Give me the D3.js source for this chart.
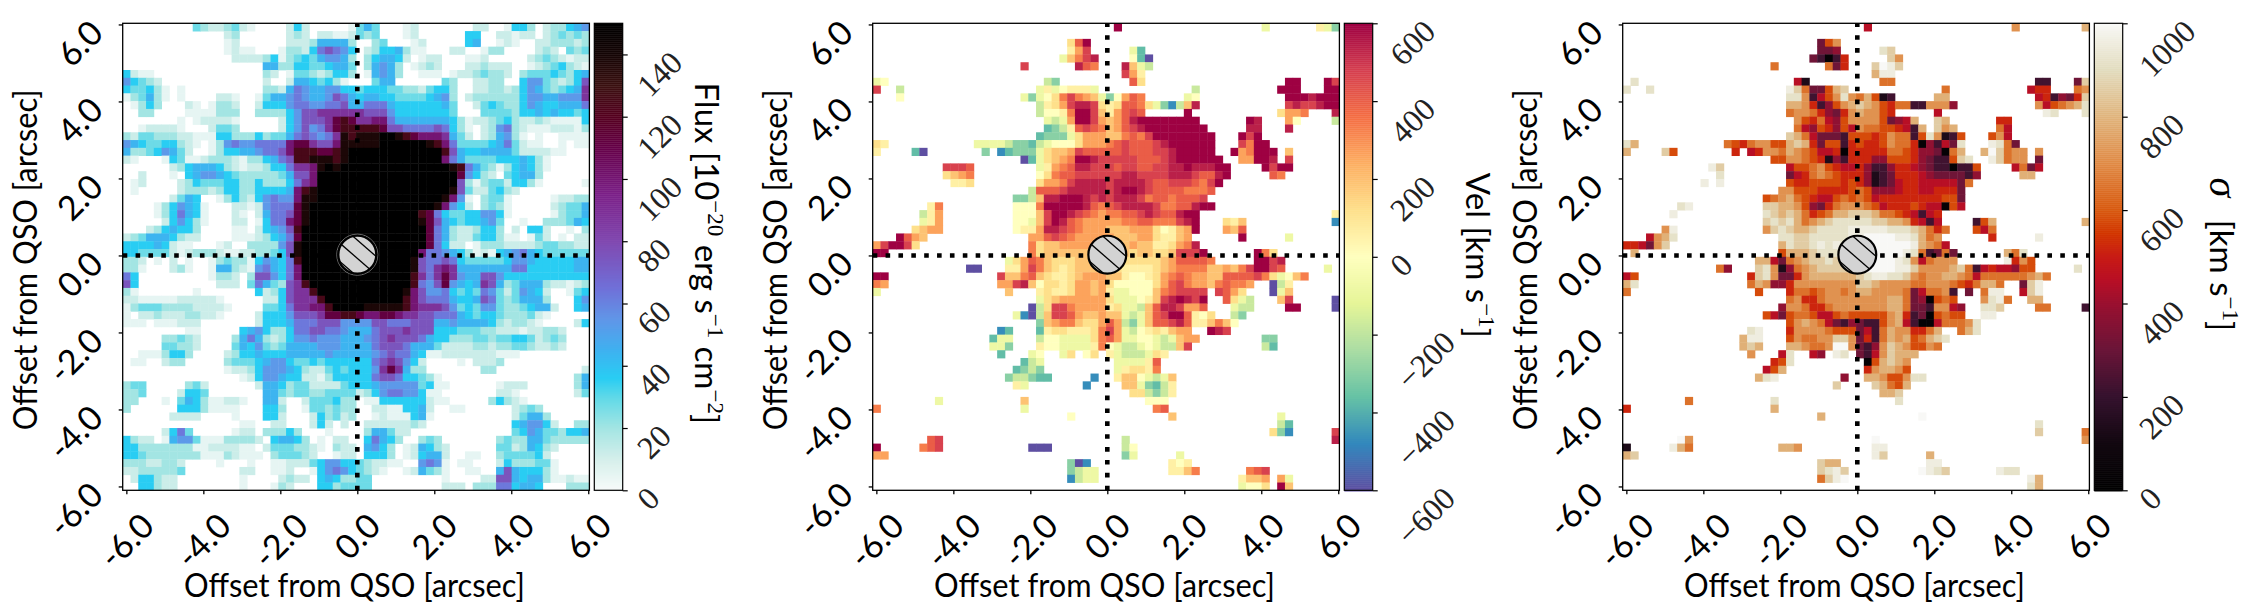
<!DOCTYPE html>
<html>
<head>
<meta charset="utf-8">
<script src="https://d3js.org/d3.v7.min.js"></script>
<style>
  html, body { margin: 0; padding: 0; background: #fff; }
  svg { display: block; }
  .sans { font-family: Lato, "Open Sans", sans-serif; }
  .serif { font-family: "Liberation Serif", serif; }
</style>
</head>
<body>
<div id="chart"></div>
<script>
// each row is one line of the 60 x 60 map, top row first.
// "." is a blank cell, a letter is an index into the levels list of that map.
// rows are grouped in tens only to keep count of the columns.
const levelKeys = "abcdefghijklmnop";

const fluxLevels = [5, 12, 20, 28, 36, 44, 54, 63, 75, 88, 100, 112, 125, 138, 150];
const fluxRows = [
  ".........d cbbcdba... .beb.....a dfd...ab.. .....bb..a eec.bccefg",
  ".......... ...bc..... .bcb.bbaab dcd...ab.. ....ee..bb abb.bcdcdc",
  ".......... ...ab..... .bbbcffffc ..cd...ab. ....ef..ab a..bbcccbc",
  ".......... ...abaa... accbehihge .bceefcaa. ..bb..acc. ...bcb.dcd",
  ".......... ....bbbbce acdedfggfc .ceffeb.ab b...aab... ..bcdcbabb",
  ".......... ........ff cceeddeffd .cfgfc.abc b...bbcbbb ..abcdecba",
  "ebaa...... ........cb .addcbceec .afgfc..aa a.abbcdccb .cdddedcef",
  "gedcb..... ........b. .bffedeca. ..dff..... .dc..bbcc. .eggdcbcei",
  "eddeca.a.. ........cc bfhgffggee deeeddccbd eec..bbccb cegfdcdefj",
  "acdfca.a.. ..bba..adf fghgffgihf effeedddde fgc.bccccc ceggffgggj",
  ".acec...ba .accb..bee eghhgghhif fhhhfeeeee efd..bdedc cegfeefffh",
  "..cc....aa aaccc..ccc cegiijjjjj jiiigeeeee eed...dddd ceefefeede",
  ".......a.a bbbba..... begiiijlml jjkkhfffff ffecabbcde cbbcbaaaae",
  "..abbbba.. .bddc..... begighjlmm mmmliihhhh iheca.bcgh cbaaabbbac",
  "cbddcccbba aaeecccecd dfhihghjnm nnnoonmlkk kjfdb.bcfg ca.a..aaaa",
  "gfeddeecba .acghgghhh hklljiiknn nnnoooooon mkhddddefh dbaa..a.aa",
  "fccdegfdb. .aceeffghh ikmmmllmno oooooooooo omifeeffff dbbbbaa...",
  "ba...aedaa bcccbaccef himmnnnmno oooooooooo okhfddddee efeca.....",
  "......bcef ffecbabbce ehjjknonoo oooooooooo oonmhfdcac efeca.....",
  "..b...a.ef ggfedccccc dfiikooooo oooooooooo ooolgecb.d effc......",
  ".ab....bce dddeeccecc cehjkooooo oooooooooo oooicacddb eeca.....a",
  ".a.....bcc cbceecceee efkmnooooo oooooooooo oonidbbdec b.........",
  "......bdfe ..acecbegh ggknnooooo oooooooooo onkga.cdda .....abbcc",
  "....acegfe a...bbabgh hhlnoooooo oooooooooo nkgeb.cdca .....bcddf",
  "....acehfe a...ba.bfh hilnoooooo ooooooooml heddeeggea .....acddf",
  ".....begec a...bb.aeh hklnoooooo oooooooonl ifedeefgd. .a..cccdfe",
  "...bcefeec ....aa.bef gimooooooo oooooooool hfcbbceec. b.eeb..a.c",
  "bcdfffecbb ....aaabce fhlooooooo oooooooool hfcbbdeeca a.adb.a.bb",
  "eeeefebaa. ..ab..cccc ginooooooo oooooooool hebb.acccb bbbcddccbb",
  "eeddddbabc ccbaabbccd einooooooo ooooooookh hgfecabaef ghfedddddd",
  "ccb.a.b.a. .acdccaegf ehmooooooo ooooooonih hiheddddde ggfeeeeeff",
  "cca...bca. .affcbaghf ehkooooooo ooooooonih jkjfffffff hheeeeeeff",
  "he........ .accb.ciig ehkooooooo ooooooomjh jljgffiige eeeeeeeeee",
  "ie........ ..bbb.dhfd cijmoooooo ooooooomhg ilgfefjifc dfffcbbabc",
  "ca.......a .......ebc eijjmooooo oooooonkig ghededhgdb dgfeb..ade",
  "bbaaaaabbb bba.....bb eijjjmoooo oooooomkih hhfeefihdc dfffc...eg",
  "acdddccccb bbba....dd ehjjkkmooo onnnnnmkjj jigdedggdc cdeffb..ef",
  "a.bbcbbbcc bba....bee egiiijllmm lkkllkjjii hhhfedeedc ccdba.....",
  "aaa.aaabbb .......bee efhhhiiigg ggiihhhiii ffgffffecb ccba....be",
  "........aa .....efgec cehhiihhgf ffhiiijiii eeedddccbb babbccb...",
  ".....ccdcb ....cfhfcb cegghgggff fghijiiihf eecccddcdd eedbcdc...",
  ".....ddccb ....dfegdc dffffgggff ffhiiihfff dbbbbccbcc ddcbbcb...",
  "..aaaceec. ...bceefee efffffgfff ffghihhfea abbbbbbbaa a.........",
  ".aa..bcc.. ...cdddefg geddedeeee eehijigeb. ...a.bbbc. ..........",
  ".......... ...abbcegg gfecbbdede eegjljfcc. ......cc.. .........b",
  ".......... .....abegg feebbaceee eehiiheedc a......... ........cf",
  "cdd.....cd b......bff ecddbbbbde eefgggggde aa......ab bb......cf",
  "ccd....bee d.......ff dcddccdddd bceghhggea a.......bb a.......bd",
  "cc...a.dfe caabba..ff b..bdddecc .aaeeeeeeb aa.....cec ba........",
  "c......eee caaaa...ee c..addcdcc ..bbaaeefb ..aa...... bcdc......",
  "......bbbb ....a...ee b...becdbc ..abaaaefa .......... bdffc.....",
  ".......... .....aa..b b...beb.b. .bbbbbbcb. .......... efggeb..cc",
  ".....behd. ....abb.cc cec...a... .cffdbb... .......... degfddceef",
  "ecbb.afggd aaaccccb.e ffec.a.bb. .ehfec..cd c.......cd ccffdccccc",
  "eeccccccca abbbbaa.bd ddccba.cbb .fgec.abfe cb......dd bcfecb....",
  "eedccccccc aaacbaaa.c dddcb..abb .eeec.abef fb..aa..cd dddeb.....",
  "cccbbccb.. ..a...a..a abbbdeggee dcbbaa..gh ga.aa...be cccdda....",
  "bbcccccd.. .....bb..a ab..aeghge dcba..abfd ca..aa..fi feeeca....",
  ".beecbb... .....a.... bcbb.efecc dd........ .a....bbii feffcaabaa",
  "..eecbb... .....a...a cb...eecdd dd........ .bbb.ccchh effe...ccc"
];

const velLevels = [-600, -470, -370, -300, -180, -80, 0, 60, 120, 190, 260, 330, 400, 470, 540, 600];
const velRows = [
  ".......... .......... .......... .p........ .......... f......hfd",
  ".......... .......... .......... .......... .......... ..........",
  ".......... .......... .....imp.. .......... .......... ..........",
  ".......... .......... .....hkn.. ...fc..... .......... ..........",
  ".......... .......... ....fjlno. ...gca.... .......... ..........",
  ".......... .........n ......oml. ..ojfe.... .......... ..........",
  ".......... .......... .......... ..nkh..... .......... ..........",
  "fg........ .......... ..ed...... ...mi..... .......... ...pp...pn",
  "n..e...... .......... .fhfghhhf. .......... .e........ ..ppp...pp",
  "...g...... .........f dfgilnlkjf dgkml..... fg........ ...pppoppp",
  ".......... .......... .ehiknooni himmlifdbe jo........ ...nonnopp",
  ".......... .......... .egghlppnj hkmnm..... p......... ..ikkl...o",
  ".......... .......... ..fefkppnk jkmopppppp pp......po ...kg....e",
  ".......... .......... ..cdehmnml jkmnoppppp ppp.....oo ...o......",
  ".......... .......... .cdddfikkk jjlmlnpppp pppp...pnp ..........",
  "ih........ ...ffffedd cefgggikkk lmnmmmnopp pppp...nlp p.........",
  "h....ca... ....d.bcdd dfijjknmmm mmnmmmnnop pppp..pklp pp.j......",
  ".......... .........a cfijklppon nnnnmmmnop ppppp..kkp po.n......",
  ".........n nnm....... .fhklmoonn nmnnmmnnoo pooopp.... pnpp......",
  ".........i jkl....... .gilmmnnnn nnoonnnnoo onmmop.... .ml.......",
  ".......... hhi....... .ikklnoooo noooonmmnn nmlnp..... ..........",
  ".......... .......... emmmnooooo nopponmmmm lllm...... ..........",
  ".......... ........dd ejoopppon onooonlmml mmmn...... ..........",
  ".......hl. ........gg glpppppoml mnoooonllm mopp...... ..........",
  "......ehk. ........gg gjnpponmlk llmmnonmmo pp........ .........h",
  "......fhk. ........gg fjnpomlkkk kkllmmllln op...ihj.. .........b",
  ".....ijkk. ........gh hkoonmlkkk jjjkkkighj kp...kjm.. ..........",
  "...pmkj... .......... kkmnmlkkkk kjjjkkihhj k......p.. ...f......",
  "knppni.... .......... lijjkkkkkk jijkjjhhik lo........ ..........",
  "pp........ .......... lijjjjjjjj jjjijjiijn nnp......p li........",
  ".......... .......fik mljiiijjjj jjiiiiijkm mmml.....p pno.......",
  ".......... ..aa...hhk nljihijjjj jihhhhijkl llljjkjlnp pnm.....f.",
  "pp........ ......njjl mjihhijkkk jjhgghiklm lkkjjmmmmn lifgjl....",
  "lk........ ......kkno jgiihikkjk igggggikmn lkkjlmllk. .aeh......",
  "f......... .......j.. .hihhikkjk hffgggjlmn nnn.nmki.. .afj......",
  ".......... .......... .fijkkkkkk ifffghjnop onp..mife. ..jn.....a",
  ".......... .......... aeinnlkkkk hiffejmoon kkm...fee. ...pp....a",
  ".......... ........fb aejnnmkjjk jjfefjmnpp mhgi..ed.. ..........",
  ".......... .......... .djklljiik mkedfjmmno mhhjljg... ..........",
  ".......... ......bc.. .chiihhhil nkfeghihjk k..pon.... ..........",
  ".......... .....cff.. .eggffffil mkffggfefj kk........ dd........",
  ".......... .....ffd.. .hggffffhl gfeefgfeej n......... ec........",
  ".......... ......c... fg..fi.gi. hfeeefih.. .......... ..........",
  ".......... .........c ef........ .ffffhm... .......... ..........",
  ".......... ........cd ed........ .fhiihl... .......... ..........",
  ".......... .......dee dcc.....b. .hjjgfefj. .......... ..........",
  ".......... ........hf .......b.. ..jjfdceh. .......... ..........",
  ".......... .......... .......... ...iiedeh. .......... ..........",
  "........f. .........j .......... .....ggg.. .......... ..........",
  "l......... .........f .......... ......lm.. .......... ..........",
  ".......... .......... .....g.... ........j. .......... ..f.......",
  ".......... .......... .......... .......... .......... ..ec......",
  ".......... .......... .......... .......... .......... .idb.....n",
  ".......mn. .......... .......... ..e....... .......... .........o",
  "p.....lmn. .......... aaa....... ..eg...... .......... ..........",
  "kk........ .......... .......... ..df.....f .......... ..........",
  ".......... .......... .....dab.. ........hg h......... ..........",
  ".......... .......... .....deff. ........hh jl......lm n.........",
  ".......... .......... .....beff. .......... .......hjj k.kf......",
  ".......... .......... .......... .......... .......fgg i.pj......"
];

const sigmaLevels = [30, 130, 220, 310, 380, 450, 520, 580, 650, 720, 790, 860, 920, 960, 1000];
const sigmaRows = [
  ".......... .......... .......... .f........ .......... j........k",
  ".......... .......... .......... .......... .......... ..........",
  ".......... .......... .....dhj.. .......... .......... ..........",
  ".......... .......... .....dde.. ...ml..... .......... ..........",
  ".......... .......... ....dcacg. ....lj.... .......... ..........",
  ".......... .........i ......idg. ..lonl.... .......... ..........",
  ".......... .......... .......... ..knn..... .......... ..........",
  ".m........ .......... ..fb...... ...ii..... .......... ...cc...dl",
  "m..m...... .......... .nliddhkl. .......... .i........ ..fgg...ij",
  ".......... .......... .mmjcfhjmj ikhbc..... kk........ ...fgcedgl",
  ".......... .......... .kkjgcehjk lkjhgiiccj jje....... ...jfhijkm",
  ".......... .......... .ijjigedgj kjjhg..... f......... ....nm...m",
  ".......... .......... ..jhgifehj jjjhdefk.. lk......gg ..........",
  ".......... .......... ..ifehgehf jiihhgfck. ljk.....if ..........",
  ".......... .......... .lkifdddch hhghjiichm jbch...hjf ..........",
  "mk........ ...ihgijjh hklkgdhhcg hgghjiigae cfdm...nmi d.........",
  "k....lh... ....g.fgjj ikjihffgag ggggiihgee daik..koli jj.j......",
  ".......... .........h hjjihgbecg ggeehhhged cchlm..nli jj.d......",
  ".......... .nl....... .fhhijhgff gecceggfed ccacch.... fidf......",
  ".......... ..m....... .dfgijihgg gebcdgggfe ddddce.... .kk.......",
  ".......... n.n....... .hgghhhhgh gebcdfggff fffdi..... ..........",
  ".......... .......... jjhhhggggh iheeefggff gggd...... ..........",
  ".......... ........hi jkihgffhih ihfggggggg ghhd...... ..........",
  ".......mn. ........ll kkjhedgijj jihfggghgf fahf...... ..........",
  "......n... ........ml klkighikkl llkiihgfcf g......... ..........",
  ".......... ........lm lmkijklmmm mmllkkjgfc f....chk.. .........k",
  ".....jn... ........jl mlkklmmmmn nnnnmmmlki gi...hfi.. ..........",
  "...fjkm... .......... mmllmmmmmn noooonnmki j......g.. ...n......",
  "ggfdjl.... .......... kmllmnmnmn ooooooonkj if........ ..........",
  ".k........ .......... hkkklmmmmm oooooonmic did......k im........",
  ".......... .......kkf dijkllmllm ooooonmjfi jjj......n gjh.......",
  ".......... ..ie...lmj beijkllllm ooooonnljj jjklicfgff ehh.....m.",
  "fh........ ......glmj ddgjkkkkkk lmnnmmljij jkkjifiiii iijki.....",
  "km........ ......ikje egjjjjjjjj llkjjjjiij jjihgikki. .dln......",
  "i......... .......h.. .giihijjij kkjjjjidfi ijc.d.inn. .fln......",
  ".......... .......... .ijggijjjj jjjjkkidea hih...jmni ..kk......",
  ".......... .......... ejjiggijjj jjjjkkiddc jjfe..mml. ...ii....c",
  ".......... ........hf dhiihffhih hhhhjkgcda hihh..nn.. ..........",
  ".......... .......... .hjkjifdce dcchjkfcaa fiiijm.... ..........",
  ".......... ......mn.. .gjjjjihhh dfcikjjggi k..ikm.... ..........",
  ".......... .....knn.. .hjiijjllj dgcikjkhik lm........ ..........",
  ".......... .....klk.. .kkjiijooj dcejlkjhhj i......... ..........",
  ".......... ......j... fm..fe.nm. dcfjlkkk.. .......... ..........",
  ".......... .........g hm........ .ahklkj... .......... ..........",
  ".......... ........fh k......... .gjkkjh... .......... ..........",
  ".......... .......kmn ........e. .kkjhhjmm. .......... ..........",
  ".......... .......... .......l.. ..lkihk... .......... ..........",
  ".......... .......... .......... ...kkl.... .......... ..........",
  "........i. .........m .......... .....m.... .......... ..........",
  "g......... .........k .......... .......... .......... ..........",
  ".......... .......... .....k.... ........o. .......... ..........",
  ".......... .......... .......... .......... .......... ...m......",
  ".......... .......... .......... .......... .......... ...l.....i",
  ".......oj. .......... .......... ..o....... .......... .........j",
  "b.....nki. .......... kkj....... ..nn...... .......... ..........",
  "kl........ .......... .......... ..nl.....k .......... ..........",
  ".......... .......... .....lkk.. .........n n......... ..........",
  ".......... .......... .....lmnl. ........on ml......nm m.........",
  ".......... .......... .....ilno. .......... .......... ..nk......",
  ".......... .......... .......... .......... .......... ..mk......"
];

const offsetTicks = [-6, -4, -2, 0, 2, 4, 6];
const fluxTicks = [0, 20, 40, 60, 80, 100, 120, 140];
const velTicks = [-600, -400, -200, 0, 200, 400, 600];
const sigmaTicks = [0, 200, 400, 600, 800, 1000];

// colour maps, stops
const fluxStops = [0, 10, 20, 30, 36, 45, 55, 65, 80, 95, 110, 120, 130, 140, 150];
const fluxColors = ["#f7fbfa", "#d5efeb", "#a3e5e3", "#5fd9e8", "#29cdf3", "#3fb1f0", "#6096e8", "#7070d8",
  "#8048b0", "#7b2088", "#650048", "#55001f", "#3a1010", "#150505", "#000000"];
const sigmaStops = [0, 100, 200, 300, 400, 450, 500, 550, 600, 700, 800, 900, 1000];
const sigmaColors = ["#000000", "#120810", "#35122e", "#6a1538", "#9a1030", "#b80f25", "#c81b15", "#d23500",
  "#d85a10", "#e08a45", "#e0b47c", "#e2dcbe", "#f8f8f6"];

const chartW = 2252, chartH = 612;
const plotTop = 23.3, plotW = 466.7, plotH = 467;
const fontSans = 34, fontSerif = 32;
const labelText = "Offset from QSO [arcsec]";

const fluxColor = d3.scaleLinear().domain(fluxStops).range(fluxColors).clamp(true);
const velColor = d3.scaleSequential(d3.piecewise(d3.interpolateRgb, [...d3.schemeSpectral[11]].reverse())).domain([-600, 600]);
const sigmaColor = d3.scaleLinear().domain(sigmaStops).range(sigmaColors).clamp(true);

const svg = d3.select("#chart").append("svg").attr("width", chartW).attr("height", chartH);
svg.append("rect").attr("width", chartW).attr("height", chartH).attr("fill", "#fff");

function parseRows(rows, levels) {
  const cells = [];
  rows.forEach((row, r) => {
    row.replace(/ /g, "").split("").forEach((ch, c) => {
      if (ch !== "." && c < 60) cells.push({ r: r, c: c, v: levels[levelKeys.indexOf(ch)] });
    });
  });
  return cells;
}

// text turned 45 degrees whose bounding box sits at the given top and centre
function turnLabels(sel, place) {
  sel.each(function (d) {
    const t = d3.select(this);
    const len = this.getComputedTextLength();
    const size = parseFloat(t.style("font-size"));
    const box = (len + size * 0.66) * Math.SQRT1_2;
    const p = place(d, box);
    t.attr("x", null).attr("y", null).attr("dy", "0.34em").attr("text-anchor", "middle")
      .attr("transform", "translate(" + p[0] + "," + p[1] + ") rotate(-45)");
  });
}

function drawPanel(i, opts) {
  const left = 122.7 + i * 750;
  const g = svg.append("g").attr("transform", "translate(" + left + "," + plotTop + ")");

  const x = d3.scaleLinear().domain([-6.095, 6.03]).range([0, plotW]);
  const y = d3.scaleLinear().domain([-6.1, 6.03]).range([plotH, 0]);
  const col = d3.scaleBand().domain(d3.range(60)).range([0, plotW]);
  const row = d3.scaleBand().domain(d3.range(60)).range([0, plotH]);

  // cells overlap by a hair so no seams show between them
  g.append("g").selectAll("rect")
    .data(parseRows(opts.rows, opts.levels))
    .enter()
    .append("rect")
    .attr("x", d => col(d.c))
    .attr("y", d => row(d.r))
    .attr("width", d => col.bandwidth() + (d.c < 59 ? 0.4 : 0))
    .attr("height", d => row.bandwidth() + (d.r < 59 ? 0.4 : 0))
    .attr("fill", d => opts.color(d.v));

  // dotted cross through the quasar
  const dots = "4.6 8.27";
  g.append("line").attr("x1", 0).attr("x2", plotW).attr("y1", y(0)).attr("y2", y(0))
    .attr("stroke", "#000").attr("stroke-width", 4.6).attr("stroke-dasharray", dots);
  g.append("line").attr("x1", x(0)).attr("x2", x(0)).attr("y1", plotH).attr("y2", 0)
    .attr("stroke", "#000").attr("stroke-width", 4.6).attr("stroke-dasharray", dots);

  // masked PSF core
  const rad = x(0.5) - x(0);
  const cx = x(0), cy = y(0.02);
  const clipId = "core" + i;
  g.append("clipPath").attr("id", clipId).append("circle").attr("cx", cx).attr("cy", cy).attr("r", rad);
  if (opts.ring) {
    g.append("circle").attr("cx", cx).attr("cy", cy).attr("r", rad + 1.3)
      .attr("fill", "none").attr("stroke", "#8a8a8a").attr("stroke-width", 0.8);
  }
  g.append("circle").attr("cx", cx).attr("cy", cy).attr("r", rad).attr("fill", "#d3d3d3");
  g.append("g").attr("clip-path", "url(#" + clipId + ")").selectAll("line")
    .data([-0.76, 0.19, 1.14])
    .enter()
    .append("line")
    .attr("x1", cx - rad).attr("x2", cx + rad)
    .attr("y1", d => cy + d * rad - 0.87 * rad)
    .attr("y2", d => cy + d * rad + 0.87 * rad)
    .attr("stroke", "#000").attr("stroke-width", 1.3);
  g.append("circle").attr("cx", cx).attr("cy", cy).attr("r", rad - 0.3)
    .attr("fill", "none").attr("stroke", "#000").attr("stroke-width", 2.2);

  // axes
  const fmt = d => d.toFixed(1);
  const ax = g.append("g").attr("transform", "translate(0," + plotH + ")")
    .call(d3.axisBottom(x).tickValues(offsetTicks).tickFormat(fmt).tickSize(4).tickSizeOuter(0));
  const ay = g.append("g")
    .call(d3.axisLeft(y).tickValues(offsetTicks).tickFormat(fmt).tickSize(4).tickSizeOuter(0));
  [ax, ay].forEach(a => {
    a.select(".domain").remove();
    a.selectAll("line").attr("stroke-width", 1.3);
    a.selectAll("text").attr("class", "sans").style("font-size", fontSans + "px").attr("fill", "#000");
  });
  turnLabels(ax.selectAll("text"), (d, box) => [0, 21.7 + box / 2]);
  turnLabels(ay.selectAll("text"), (d, box) => [-17.7 - box / 2, -6 + box / 2]);

  g.append("rect").attr("width", plotW).attr("height", plotH)
    .attr("fill", "none").attr("stroke", "#000").attr("stroke-width", 1.3);

  g.append("text").text(labelText).attr("class", "sans")
    .attr("x", plotW / 2 - 1.5).attr("y", 574).attr("text-anchor", "middle")
    .attr("textLength", 341).attr("lengthAdjust", "spacingAndGlyphs")
    .style("font-size", "33px");
  g.append("text").text(labelText).attr("class", "sans")
    .attr("text-anchor", "middle").style("font-size", "33px")
    .attr("textLength", 341).attr("lengthAdjust", "spacingAndGlyphs")
    .attr("transform", "translate(-86," + (plotH / 2 + 3) + ") rotate(-90)");

  // colour bar
  const barX = 471.6, barW = 28.4;
  const bar = g.append("g").attr("transform", "translate(" + barX + ",0)");
  const scaleV = d3.scaleLinear().domain(opts.domain).range([plotH, 0]);
  const bands = d3.range(0, 234).map(k => opts.domain[0] + (k / 233) * (opts.domain[1] - opts.domain[0]));
  bar.selectAll("rect").data(bands).enter().append("rect")
    .attr("x", 0).attr("width", barW)
    .attr("y", d => Math.max(0, scaleV(d) - 1.2)).attr("height", 2.4)
    .attr("fill", d => opts.color(d));
  bar.append("rect").attr("width", barW).attr("height", plotH)
    .attr("fill", "none").attr("stroke", "#000").attr("stroke-width", 1.2);
  const barAxis = bar.append("g").attr("transform", "translate(" + barW + ",0)")
    .call(d3.axisRight(scaleV).tickValues(opts.ticks).tickFormat(d3.format("d")).tickSize(5).tickSizeOuter(0));
  barAxis.select(".domain").remove();
  barAxis.selectAll("line").attr("stroke-width", 1.2);
  barAxis.selectAll("text").attr("class", "serif").style("font-size", fontSerif + "px").attr("fill", "#222");
  turnLabels(barAxis.selectAll("text"), (d, box) => [opts.tickLeft + (d < 0 ? 7 : 0) + box / 2, -5.5 + box / 2]);

  // colour bar title, turned to read downwards
  const title = g.append("text").attr("class", "sans").style("font-size", "33px").attr("text-anchor", "middle")
    .attr("transform", "translate(" + opts.titleX + "," + opts.titleY + ") rotate(90)");
  opts.title.forEach(part => {
    const s = title.append("tspan").text(part[0]);
    if (part[1] === "sup") s.attr("class", "serif").attr("dy", -13).style("font-size", "23px");
    if (part[1] === "back") s.attr("dy", 13);
    if (part[1] === "sym") s.attr("class", "serif").style("font-style", "italic").style("font-size", "40px");
    if (part[1] === "gap") s.attr("dx", 14);
  });
}

drawPanel(0, {
  rows: fluxRows, levels: fluxLevels, color: fluxColor, domain: [0, 150], ticks: fluxTicks,
  tickLeft: 12.5, ring: true, titleX: 572, titleY: 230,
  title: [["Flux [10"], ["\u221220", "sup"], [" erg s", "back"], ["\u22121", "sup"], [" cm", "back"], ["\u22122", "sup"], ["]", "back"]]
});
drawPanel(1, {
  rows: velRows, levels: velLevels, color: velColor, domain: [-600, 600], ticks: velTicks,
  tickLeft: 15.5, ring: false, titleX: 593, titleY: 232,
  title: [["Vel [km s"], ["\u22121", "sup"], ["]", "back"]]
});
drawPanel(2, {
  rows: sigmaRows, levels: sigmaLevels, color: sigmaColor, domain: [0, 1000], ticks: sigmaTicks,
  tickLeft: 14.5, ring: false, titleX: 587, titleY: 231,
  title: [["\u03c3", "sym"], [" [km s", "gap"], ["\u22121", "sup"], ["]", "back"]]
});
</script>
</body>
</html>
